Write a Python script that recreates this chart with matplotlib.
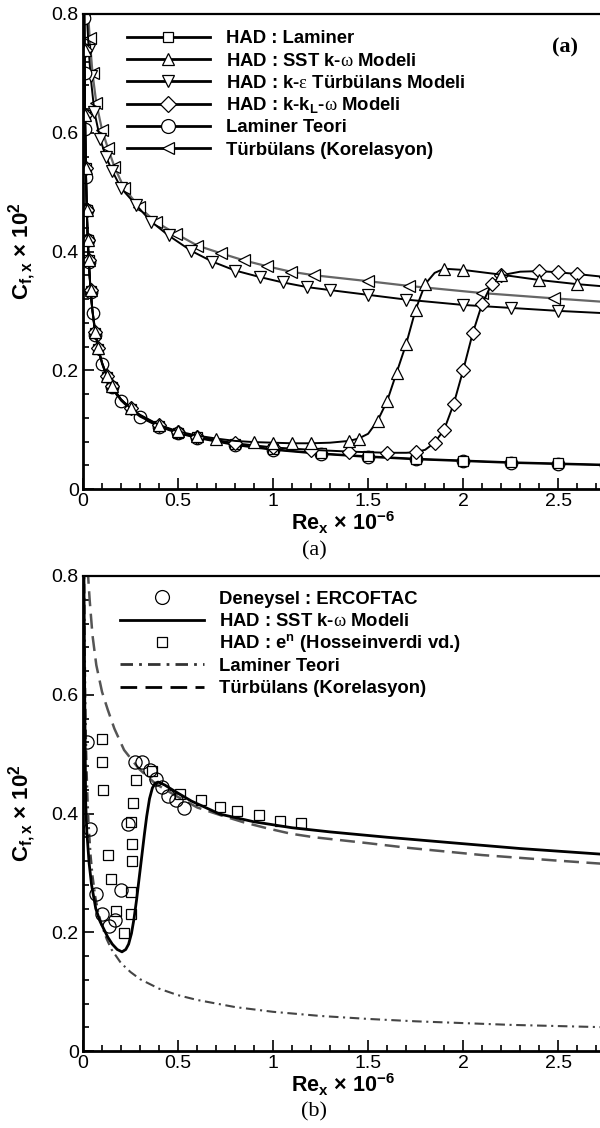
import matplotlib as mpl
import matplotlib.pyplot as plt
from matplotlib.lines import Line2D
from matplotlib.ticker import MultipleLocator, FormatStrFormatter

mpl.rcParams['font.family'] = ['Liberation Sans', 'DejaVu Sans']
mpl.rcParams['mathtext.fontset'] = 'custom'
mpl.rcParams['mathtext.it'] = 'Liberation Serif'
mpl.rcParams['mathtext.default'] = 'regular'

# ---- data (Re_x * 1e-6, Cf * 1e2) ----
# laminar theory (Blasius), shared by both panels
lam_re = [0.006, 0.007, 0.009, 0.012, 0.016, 0.02, 0.025, 0.03, 0.04, 0.05, 0.065,
          0.08, 0.1, 0.125, 0.15, 0.2, 0.25, 0.3, 0.4, 0.5, 0.6, 0.8, 1.0, 1.25,
          1.5, 1.75, 2.0, 2.25, 2.5, 2.75]
lam_cf = [0.857, 0.794, 0.70, 0.606, 0.525, 0.47, 0.42, 0.383, 0.332, 0.297, 0.26,
          0.235, 0.21, 0.188, 0.171, 0.148, 0.133, 0.121, 0.105, 0.094, 0.086, 0.074,
          0.066, 0.059, 0.054, 0.050, 0.047, 0.044, 0.042, 0.040]

# turbulent correlation, shared by both panels
turb_re = [0.02, 0.025, 0.035, 0.05, 0.07, 0.1, 0.13, 0.165, 0.216, 0.295, 0.382,
           0.488, 0.602, 0.725, 0.847, 0.97, 1.093, 1.216, 1.5, 1.715, 2.1, 2.48, 2.75]
turb_cf = [0.85, 0.81, 0.76, 0.70, 0.65, 0.605, 0.575, 0.543, 0.507, 0.475, 0.45,
           0.43, 0.41, 0.397, 0.385, 0.375, 0.366, 0.36, 0.35, 0.342, 0.33, 0.321, 0.315]

# panel (a): CFD
had_lam_re = [0.006, 0.008, 0.011, 0.015, 0.02, 0.025, 0.03, 0.04, 0.05, 0.065, 0.08,
              0.1, 0.125, 0.15, 0.2, 0.25, 0.3, 0.4, 0.5, 0.6, 0.8, 1.0, 1.25, 1.5,
              1.75, 2.0, 2.25, 2.5, 2.75]
had_lam_cf = [0.84, 0.74, 0.63, 0.54, 0.47, 0.42, 0.385, 0.333, 0.298, 0.262, 0.236,
              0.211, 0.189, 0.172, 0.149, 0.134, 0.122, 0.106, 0.095, 0.087, 0.075,
              0.067, 0.060, 0.055, 0.051, 0.048, 0.045, 0.043, 0.041]

sst_re = [0.006, 0.008, 0.011, 0.015, 0.02, 0.025, 0.03, 0.04, 0.05, 0.065, 0.08, 0.1,
          0.125, 0.15, 0.2, 0.25, 0.3, 0.4, 0.5, 0.6, 0.7, 0.8, 0.9, 1.0, 1.1, 1.2,
          1.3, 1.4, 1.45, 1.5, 1.55, 1.6, 1.65, 1.7, 1.75, 1.8, 1.85, 1.9, 2.0, 2.2,
          2.4, 2.6, 2.75]
sst_cf = [0.84, 0.74, 0.63, 0.54, 0.47, 0.42, 0.386, 0.335, 0.3, 0.264, 0.238, 0.213,
          0.191, 0.174, 0.151, 0.136, 0.125, 0.108, 0.097, 0.09, 0.085, 0.081, 0.079,
          0.078, 0.077, 0.077, 0.078, 0.081, 0.085, 0.093, 0.115, 0.148, 0.196, 0.244,
          0.302, 0.345, 0.364, 0.371, 0.369, 0.361, 0.352, 0.345, 0.341]

ke_re = [0.015, 0.02, 0.03, 0.04, 0.06, 0.09, 0.12, 0.155, 0.2, 0.28, 0.36, 0.45,
         0.57, 0.68, 0.8, 0.93, 1.05, 1.18, 1.3, 1.5, 1.7, 2.0, 2.25, 2.5, 2.75]
ke_cf = [0.85, 0.80, 0.74, 0.695, 0.635, 0.59, 0.56, 0.535, 0.507, 0.478, 0.45, 0.427,
         0.401, 0.383, 0.368, 0.357, 0.348, 0.34, 0.335, 0.327, 0.319, 0.31, 0.305,
         0.30, 0.296]

kkl_re = [0.006, 0.008, 0.011, 0.015, 0.02, 0.025, 0.03, 0.04, 0.05, 0.065, 0.08, 0.1,
          0.125, 0.15, 0.2, 0.25, 0.3, 0.4, 0.5, 0.6, 0.8, 1.0, 1.2, 1.4, 1.6, 1.7,
          1.75, 1.8, 1.85, 1.9, 1.95, 2.0, 2.05, 2.1, 2.15, 2.2, 2.3, 2.4, 2.5, 2.6,
          2.75]
kkl_cf = [0.84, 0.74, 0.63, 0.54, 0.47, 0.42, 0.386, 0.335, 0.3, 0.264, 0.238, 0.213,
          0.191, 0.174, 0.151, 0.136, 0.124, 0.107, 0.096, 0.088, 0.077, 0.07, 0.066,
          0.063, 0.061, 0.061, 0.062, 0.066, 0.078, 0.1, 0.143, 0.2, 0.262, 0.312,
          0.345, 0.36, 0.366, 0.367, 0.365, 0.362, 0.357]

# panel (b)
exp_re = [0.019, 0.037, 0.067, 0.102, 0.137, 0.168, 0.202, 0.239, 0.272, 0.312,
          0.351, 0.382, 0.418, 0.449, 0.488, 0.532]
exp_cf = [0.521, 0.374, 0.265, 0.23, 0.211, 0.221, 0.272, 0.382, 0.486, 0.487,
          0.473, 0.458, 0.445, 0.43, 0.422, 0.41]

en_re = [0.102, 0.102, 0.107, 0.132, 0.146, 0.172, 0.216, 0.251, 0.251, 0.256, 0.256,
         0.251, 0.265, 0.277, 0.361, 0.511, 0.623, 0.721, 0.809, 0.926, 1.035, 1.146]
en_cf = [0.525, 0.486, 0.439, 0.33, 0.289, 0.236, 0.198, 0.231, 0.267, 0.32, 0.348,
         0.386, 0.418, 0.457, 0.472, 0.433, 0.422, 0.411, 0.405, 0.398, 0.388, 0.384]

sstb_re = [0.004, 0.006, 0.009, 0.014, 0.02, 0.032, 0.045, 0.067, 0.09, 0.11, 0.13,
           0.154, 0.18, 0.205, 0.225, 0.24, 0.255, 0.268, 0.282, 0.295, 0.31, 0.323,
           0.335, 0.35, 0.365, 0.38, 0.395, 0.43, 0.47, 0.57, 0.72, 0.9, 1.1, 1.3,
           1.6, 1.93, 2.3, 2.75]
sstb_cf = [0.84, 0.75, 0.6, 0.42, 0.37, 0.317, 0.28, 0.24, 0.218, 0.205, 0.192, 0.18,
           0.171, 0.167, 0.171, 0.18, 0.198, 0.222, 0.255, 0.29, 0.33, 0.365, 0.395,
           0.425, 0.443, 0.451, 0.453, 0.448, 0.44, 0.421, 0.399, 0.386, 0.376, 0.369,
           0.36, 0.351, 0.341, 0.331]

FW, FH = 600, 1128


def fig_xy(x, y):
    return x / FW, 1 - y / FH


def style_axis(ax):
    ax.set_xlim(0, 2.72)
    ax.set_ylim(0, 0.8)
    ax.spines['right'].set_visible(False)
    ax.spines['left'].set_linewidth(2.0)
    ax.spines['bottom'].set_linewidth(2.0)
    ax.spines['top'].set_linewidth(1.6)
    ax.xaxis.set_major_locator(MultipleLocator(0.5))
    ax.xaxis.set_minor_locator(MultipleLocator(0.1))
    ax.yaxis.set_major_locator(MultipleLocator(0.2))
    ax.yaxis.set_minor_locator(MultipleLocator(0.04))
    ax.xaxis.set_major_formatter(FormatStrFormatter('%g'))
    ax.yaxis.set_major_formatter(FormatStrFormatter('%g'))
    ax.tick_params(which='both', direction='in', top=False, right=False,
                   labelsize=14, width=1.2, pad=3)
    ax.tick_params(which='major', length=8)
    ax.tick_params(which='minor', length=4)
    ax.set_xlabel('Re$_x$ × 10$^{-6}$', fontsize=15.5, fontweight='bold')
    ax.xaxis.set_label_coords(0.503, -0.044)
    ax.set_ylabel('C$_{f,x}$ × 10$^2$', fontsize=16, fontweight='bold')
    ax.yaxis.set_label_coords(-0.087, 0.5)


def legend_rows(fig, rows, y0, dy, x_line, x_text):
    for i, (handle, label) in enumerate(rows):
        y = y0 + i * dy
        handle.set_transform(fig.transFigure)
        handle.set_xdata([x_line[0] / FW, x_line[1] / FW])
        handle.set_ydata([1 - y / FH, 1 - y / FH])
        fig.add_artist(handle)
        fig.text(x_text / FW, 1 - (y + 6.5) / FH, label, fontsize=13.3,
                 fontweight='bold', va='baseline', ha='left')


fig = plt.figure(figsize=(FW / 100, FH / 100), dpi=100)
ax_a = fig.add_axes([83 / FW, 1 - 489 / FH, 517 / FW, 475 / FH])
ax_b = fig.add_axes([83 / FW, 1 - 1051 / FH, 517 / FW, 475 / FH])

mk = dict(mfc='white', mec='black', mew=0.9, markevery=0.034)

# ---- panel (a) ----
ax_a.plot(turb_re, turb_cf, color='#666666', lw=1.6, marker='<', ms=8, **mk)
ax_a.plot(ke_re, ke_cf, color='black', lw=1.4, marker='v', ms=8, **mk)
ax_a.plot(lam_re, lam_cf, color='black', lw=1.4, marker='o', ms=9, **mk)
ax_a.plot(had_lam_re, had_lam_cf, color='black', lw=1.4, marker='s', ms=6.5, **mk)
ax_a.plot(kkl_re, kkl_cf, color='black', lw=1.4, marker='D', ms=7, **mk)
ax_a.plot(sst_re, sst_cf, color='black', lw=1.4, marker='^', ms=8, **mk)
style_axis(ax_a)

rows_a = [
    (Line2D([0, 1], [0, 0], color='black', lw=2), 'HAD : Laminer'),
    (Line2D([0, 1], [0, 0], color='black', lw=2), 'HAD : SST k-$\\mathit{\\omega}$ Modeli'),
    (Line2D([0, 1], [0, 0], color='black', lw=2), 'HAD : k-$\\mathit{\\epsilon}$ Türbülans Modeli'),
    (Line2D([0, 1], [0, 0], color='black', lw=2), 'HAD : k-k$_L$-$\\mathit{\\omega}$ Modeli'),
    (Line2D([0, 1], [0, 0], color='black', lw=2), 'Laminer Teori'),
    (Line2D([0, 1], [0, 0], color='black', lw=2), 'Türbülans (Korelasyon)'),
]
legend_rows(fig, rows_a, 36.7, 22.3, (127, 210), 226)
# marker sits in the middle of each legend segment
legend_markers_a = ['s', '^', 'v', 'D', 'o', '<']
legend_ms_a = [7, 8, 8, 8, 10, 8]
for i, (m, s) in enumerate(zip(legend_markers_a, legend_ms_a)):
    x, y = fig_xy(168, 36.7 + i * 22.3)
    fig.add_artist(Line2D([x], [y], transform=fig.transFigure, marker=m, ms=s,
                          mfc='white', mec='black', mew=0.9, ls='none'))

x, y = fig_xy(565, 47)
fig.text(x, y, '(a)', fontsize=16, fontweight='bold', family='Liberation Serif',
         ha='center', va='center')

# ---- panel (b) ----
ax_b.plot(lam_re, lam_cf, color='#444444', lw=1.5, ls=(0, (4.6, 2.2, 1.0, 2.2)))
ax_b.plot(turb_re, turb_cf, color='#555555', lw=1.8, ls=(0, (6, 3)))
ax_b.plot(sstb_re, sstb_cf, color='black', lw=2.0)
ax_b.plot(en_re, en_cf, ls='none', marker='s', ms=7, mfc='none', mec='black', mew=0.9)
ax_b.plot(exp_re, exp_cf, ls='none', marker='o', ms=9.5, mfc='none', mec='black', mew=0.9)
style_axis(ax_b)

rows_b = [
    (Line2D([0, 1], [0, 0], ls='none'), 'Deneysel : ERCOFTAC'),
    (Line2D([0, 1], [0, 0], color='black', lw=2), 'HAD : SST k-$\\mathit{\\omega}$ Modeli'),
    (Line2D([0, 1], [0, 0], ls='none'), 'HAD : e$^n$ (Hosseinverdi vd.)'),
    (Line2D([0, 1], [0, 0], color='#333333', lw=2, ls=(0, (4.5, 2.2, 1.0, 2.2))), 'Laminer Teori'),
    (Line2D([0, 1], [0, 0], color='black', lw=2, ls=(0, (6, 3))), 'Türbülans (Korelasyon)'),
]
legend_rows(fig, rows_b, 597.3, 22.35, (120, 204), 219)
for i, (m, s) in [(0, ('o', 10)), (2, ('s', 7))]:
    x, y = fig_xy(162, 597.3 + i * 22.35)
    fig.add_artist(Line2D([x], [y], transform=fig.transFigure, marker=m, ms=s,
                          mfc='none', mec='black', mew=0.9, ls='none'))

for label, ycap in [('(a)', 551), ('(b)', 1112)]:
    x, y = fig_xy(314, ycap)
    fig.text(x, y, label, fontsize=16, family='Liberation Serif', ha='center', va='center')

fig.savefig('out.png', dpi=100)
